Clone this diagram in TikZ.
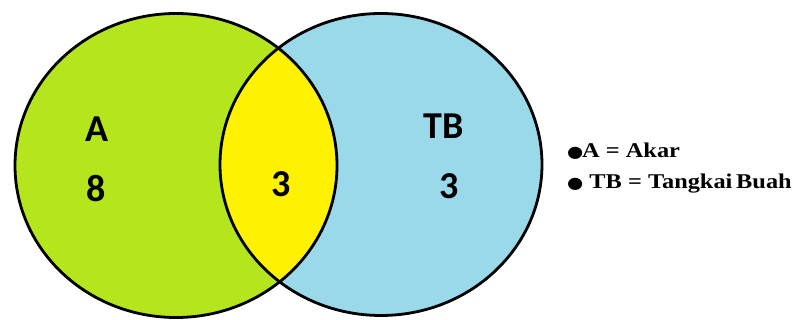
\documentclass[tikz,border=0pt]{standalone}
\usepackage{fontspec}
\setmainfont{Liberation Serif}
\newfontfamily\vennfont{Carlito}
\newfontfamily\dotfont{DejaVu Sans}
\definecolor{akargreen}{RGB}{181,230,29}
\definecolor{tbblue}{RGB}{153,217,234}
\definecolor{lensyellow}{RGB}{255,242,0}
\newcommand{\legbullet}{{\dotfont\fontsize{16}{16}\selectfont ●}}
\tikzset{
  vennlabel/.style={anchor=base,inner sep=0pt,font=\vennfont\fontsize{38}{44}\selectfont\bfseries},
  legendtext/.style={anchor=base west,inner sep=0pt,font=\fontsize{21}{25}\selectfont\bfseries}
}

\begin{document}
\begin{tikzpicture}[x=1pt,y=1pt,yscale=-1,xscale=1]
\useasboundingbox (0,0) rectangle (798,320);

%Shape: Ellipse (A)
\fill [akargreen] (176,165.5) ellipse [x radius=161pt, y radius=152pt];
%Shape: Ellipse (TB)
\fill [tbblue] (381,164.5) ellipse [x radius=161pt, y radius=151pt];
%Shape: Lens (A and TB)
\begin{scope}
\clip (176,165.5) ellipse [x radius=161pt, y radius=152pt];
\fill [lensyellow] (381,164.5) ellipse [x radius=161pt, y radius=151pt];
\end{scope}
%Outlines
\draw [line width=2.8] (176,165.5) ellipse [x radius=161pt, y radius=152pt];
\draw [line width=2.8] (381,164.5) ellipse [x radius=161pt, y radius=151pt];

%Text
\node [vennlabel] (nameA) at (97.5,142) {A};
\node [vennlabel] (countA) at (96.5,202) {8};
\node [vennlabel] (countAB) at (281,197) {3};
\node [vennlabel] (nameTB) at (443.5,139) {TB};
\node [vennlabel] (countTB) at (449,199) {3};

%Legend
\node [legendtext] (legendA) at (567,158) {\scalebox{1.16}[1]{\legbullet\kern-1pt A = Akar}};
\node [legendtext] (legendTB) at (567,189) {\scalebox{1.16}[1]{\legbullet\ TB = Tangkai\kern-2pt\ Buah}};

\end{tikzpicture}
\end{document}
